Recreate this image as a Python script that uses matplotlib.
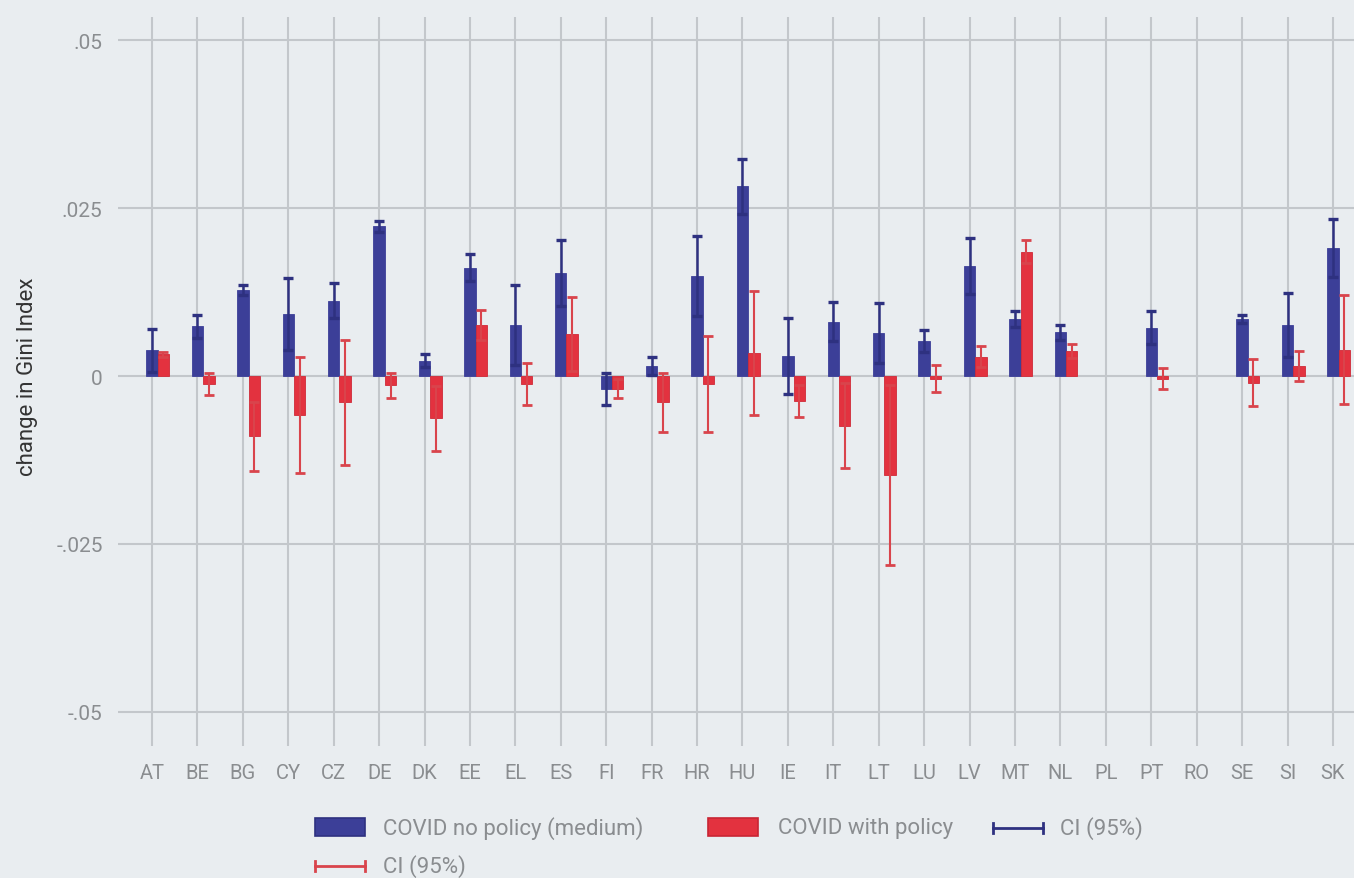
import numpy as np
import matplotlib
matplotlib.use("Agg")
import matplotlib.pyplot as plt
from matplotlib.lines import Line2D
from matplotlib.patches import Rectangle

countries = ["AT", "BE", "BG", "CY", "CZ", "DE", "DK", "EE", "EL", "ES", "FI", "FR", "HR",
             "HU", "IE", "IT", "LT", "LU", "LV", "MT", "NL", "PL", "PT", "RO", "SE", "SI", "SK"]

nan = np.nan
# change in Gini index, COVID scenario without policy (medium)
no_policy = [0.0038, 0.0074, 0.0128, 0.0092, 0.0112, 0.0223, 0.0023, 0.0161, 0.0076, 0.0153,
             -0.0019, 0.0015, 0.0149, 0.0282, 0.0030, 0.0081, 0.0064, 0.0052, 0.0164, 0.0085,
             0.0065, nan, 0.0072, nan, 0.0085, 0.0076, 0.0191]
no_policy_ci = [0.0032, 0.0017, 0.0008, 0.0054, 0.0026, 0.0008, 0.0009, 0.0020, 0.0060, 0.0049,
                0.0024, 0.0013, 0.0059, 0.0041, 0.0057, 0.0029, 0.0044, 0.0017, 0.0042, 0.0012,
                0.0011, nan, 0.0024, nan, 0.0006, 0.0048, 0.0043]

# change in Gini index, COVID scenario with policy
with_policy = [0.0032, -0.0012, -0.0090, -0.0058, -0.0039, -0.0014, -0.0063, 0.0076, -0.0012, 0.0062,
               -0.0019, -0.0039, -0.0012, 0.0034, -0.0037, -0.0074, -0.0147, -0.0004, 0.0029, 0.0185,
               0.0037, nan, -0.0004, nan, -0.0010, 0.0015, 0.0039]
with_policy_ci = [0.0003, 0.0017, 0.0052, 0.0086, 0.0093, 0.0018, 0.0048, 0.0022, 0.0031, 0.0055,
                  0.0014, 0.0044, 0.0072, 0.0092, 0.0024, 0.0063, 0.0134, 0.0020, 0.0016, 0.0017,
                  0.0010, nan, 0.0016, nan, 0.0035, 0.0022, 0.0081]

y_ticks = [0.05, 0.025, 0.0, -0.025, -0.05]
y_tick_labels = [".05", ".025", "0", "-.025", "-.05"]

legend_labels = ["COVID no policy (medium)", "COVID with policy", "CI (95%)", "CI (95%)"]

BG = "#e9edf0"
BLUE = "#3c3f98"
BLUE_CI = "#2e3180"
RED = "#e3323f"
RED_CI = "#d9444c"
GRID = "#c3c7cb"
TXT = "#8a8d90"

plt.rcParams["font.family"] = ["Roboto", "DejaVu Sans"]

W, H = 1354, 879
fig = plt.figure(figsize=(W / 100, H / 100), dpi=100, facecolor=BG)
ax = fig.add_axes([118 / W, 1 - 747 / H, (W - 118) / W, (747 - 18) / H])
ax.set_facecolor(BG)

x = np.arange(len(countries))
bw = 0.25
np_v = np.array(no_policy)
wp_v = np.array(with_policy)

ax.bar(x, np_v, width=bw, color=BLUE, edgecolor=BLUE, linewidth=0.6, zorder=3)
ax.bar(x + bw, wp_v, width=bw, color=RED, edgecolor="#cf2a38", linewidth=0.6, zorder=3)

ax.errorbar(x, np_v, yerr=np.array(no_policy_ci), fmt="none", ecolor=BLUE_CI,
            elinewidth=1.8, capsize=3.8, capthick=2.4, zorder=4)
ax.errorbar(x + bw, wp_v, yerr=np.array(with_policy_ci), fmt="none", ecolor=RED_CI,
            elinewidth=1.5, capsize=3.8, capthick=2.0, zorder=4)

ax.set_xlim(-0.75, (W - 152) / 45.42)
ax.set_ylim((377 - 747) / 6720, (377 - 18) / 6720)

ax.set_xticks(x)
ax.set_xticklabels(countries, color=TXT, fontsize=14.5)
ax.set_yticks(y_ticks)
ax.set_yticklabels(y_tick_labels, color=TXT, fontsize=15)
ax.tick_params(axis="both", length=0)
ax.tick_params(axis="x", pad=12)
ax.tick_params(axis="y", pad=11)

ax.grid(True, color=GRID, linewidth=1.5, zorder=0)
ax.set_axisbelow(True)
for s in ax.spines.values():
    s.set_visible(False)

ax.set_ylabel("change in Gini Index", fontsize=16, color="#333333")
ax.yaxis.set_label_coords(-0.065, (747 - 377) / (747 - 18))


# legend, laid out in figure pixels
def fx(px):
    return px / W


def fy(py):
    return 1 - py / H


def legend_patch(x0, yc, color, edge):
    fig.patches.append(Rectangle((fx(x0), fy(yc + 9)), 50 / W, 18 / H, transform=fig.transFigure,
                                 facecolor=color, edgecolor=edge, linewidth=1.2))


def legend_ci(x0, yc, color):
    fig.lines.append(Line2D([fx(x0), fx(x0 + 50)], [fy(yc), fy(yc)], transform=fig.transFigure,
                            color=color, lw=2))
    for xe in (x0, x0 + 50):
        fig.lines.append(Line2D([fx(xe), fx(xe)], [fy(yc - 5), fy(yc + 5)],
                                transform=fig.transFigure, color=color, lw=2))


def legend_text(x0, yc, s):
    fig.text(fx(x0), fy(yc), s, color=TXT, fontsize=16, va="center", ha="left")


legend_patch(315, 828, BLUE, "#2e3180")
legend_text(383, 829, legend_labels[0])
legend_patch(708, 828, RED, "#c82534")
legend_text(778, 829, legend_labels[1])
legend_ci(993, 829, BLUE_CI)
legend_text(1060, 829, legend_labels[2])
legend_ci(315, 867, RED_CI)
legend_text(383, 867, legend_labels[3])

fig.savefig("out.png", dpi=100, facecolor=BG)
